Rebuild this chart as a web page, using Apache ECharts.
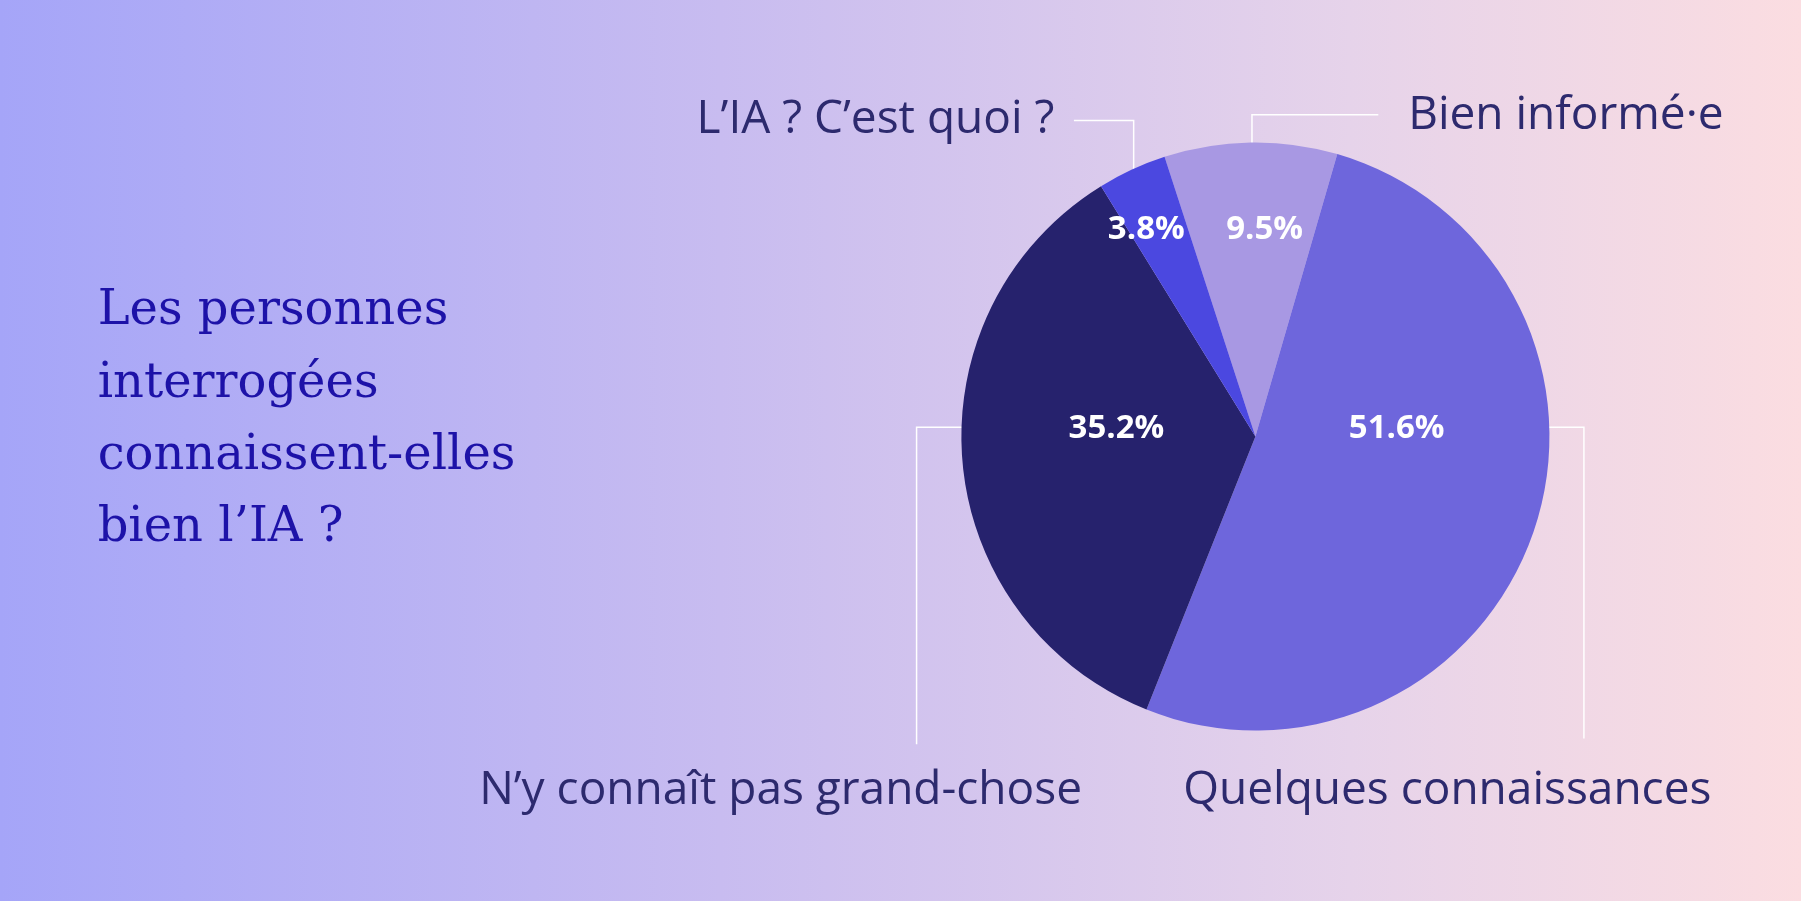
<!DOCTYPE html><html><head><meta charset="utf-8">
<script src="https://cdn.jsdelivr.net/npm/echarts@6/dist/echarts.min.js"></script>
<style>html,body{margin:0;padding:0}#c{width:1801px;height:901px;background:linear-gradient(90deg,#a5a5f8 0%,#c8bcf0 40%,#e6d3ea 75%,#fbdde1 100%)}</style>
</head><body><div id="c"></div><script>
const categories=["Bien informé·e","Quelques connaissances","N’y connaît pas grand-chose","L’IA ? C’est quoi ?"];
const values=[9.5,51.6,35.2,3.8];
const colors=['#a898e3','#6e66dc','#26226d','#4b48e0'];
const title="Les personnes\ninterrogées\nconnaissent-elles\nbien l’IA ?";
const S=1801/1568;
const cx=1093*S,cy=380*S,R=256*S,start=108;
const labelOffsets=[[8,-180],[123,-7],[-121,-7],[-95,-180]];
const chart=echarts.init(document.getElementById('c'));
const tc='#2d2a6e',lc='#ffffff';
const sc=p=>p.map(q=>[q[0]*S,q[1]*S]);
const outer=[
 {t:categories[3],x:918,y:104,a:'right',pts:[[935,105],[987,105],[987,163]]},
 {t:categories[0],x:1226,y:101,a:'left',pts:[[1200,100],[1090,100],[1090,163]]},
 {t:categories[2],x:942,y:689,a:'right',pts:[[893,372],[798,372],[798,648]]},
 {t:categories[1],x:1490,y:689,a:'right',pts:[[1290,372],[1379,372],[1379,643]]}
];
chart.setOption({
 graphic:[{type:'text',left:85*S,top:240*S,style:{text:title,font:'48px "DejaVu Serif"',fill:'#1d12a8',lineHeight:63*S}}]
 .concat(outer.map(o=>({type:'text',x:o.x*S,y:o.y*S,style:{text:o.t,font:'46px "Open Sans"',fill:tc,textAlign:o.a,textVerticalAlign:'middle'}})))
 .concat(outer.map(o=>({type:'polyline',shape:{points:sc(o.pts)},style:{stroke:lc,lineWidth:1.5,fill:null}}))),
 series:[{type:'pie',center:[cx,cy],radius:R,startAngle:start,clockwise:true,silent:true,
  data:categories.map((c,i)=>({name:c,value:values[i],itemStyle:{color:colors[i]}})),
  label:{position:'inside',formatter:p=>p.value.toFixed(1)+'%',color:'#fff',fontSize:33,fontWeight:'bold',fontFamily:'Open Sans'},
  labelLayout:p=>{const o=labelOffsets[p.dataIndex];return {x:cx+o[0]*S,y:cy+o[1]*S,align:'center',verticalAlign:'middle'};},
  labelLine:{show:false}}]
});
</script></body></html>
